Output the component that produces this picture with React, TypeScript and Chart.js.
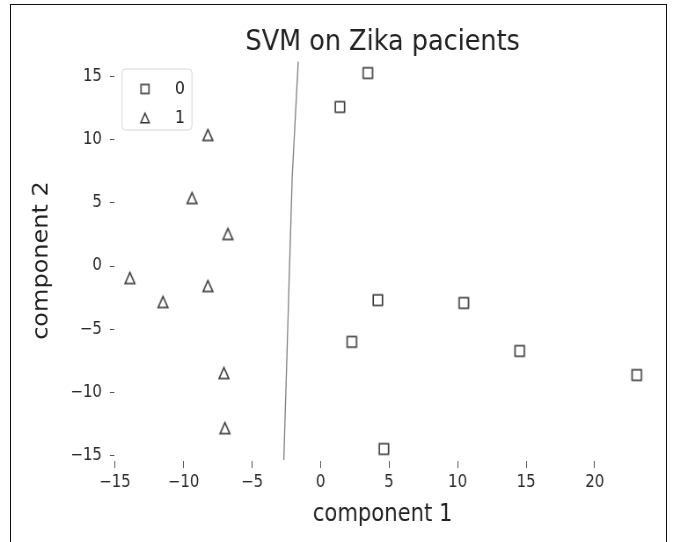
import React, { useEffect, useRef } from 'react';
import { Chart, registerables } from 'chart.js';

Chart.register(...registerables);

// ---- data ----
const xTicks = [-15, -10, -5, 0, 5, 10, 15, 20];
const yTicks = [-15, -10, -5, 0, 5, 10, 15];
const classLabels = ['0', '1'];
const class0X = [3.45, 1.41, 4.18, 10.45, 2.28, 14.53, 23.07, 4.62];
const class0Y = [15.24, 12.56, -2.69, -2.92, -5.99, -6.71, -8.61, -14.45];
const class1X = [-8.22, -9.38, -6.76, -13.91, -11.5, -8.22, -7.05, -6.98];
const class1Y = [10.35, 5.37, 2.53, -0.95, -2.84, -1.58, -8.45, -12.8];
const boundaryX = [-1.63, -2.07, -2.68];
const boundaryY = [16.14, 7.03, -15.32];
const xRange = [-15.05, 24.11];
const yRange = [-15.4, 16.27];
const titleText = 'SVM on Zika pacients';
const xLabel = 'component 1';
const yLabel = 'component 2';

// ---- presentation ----
const FONT = "'DejaVu Sans', sans-serif";
const CSS_W = 673;
const CSS_H = 542;
const SQUEEZE = 0.88; // reference is horizontally compressed
const CANVAS_W = Math.round(CSS_W / SQUEEZE);

function fmt(value: number | string) {
  const v = Number(value);
  return v < 0 ? '\u2212' + Math.abs(v) : String(v);
}

function makeMarker(shape: 'square' | 'triangle', size: number, lw: number, color: string) {
  const pad = Math.ceil(lw) + 1;
  const dim = Math.ceil(size + 2 * pad);
  const c = document.createElement('canvas');
  c.width = dim;
  c.height = dim;
  const ctx = c.getContext('2d')!;
  ctx.strokeStyle = color;
  ctx.lineWidth = lw;
  ctx.lineJoin = 'miter';
  const cx = dim / 2;
  const cy = dim / 2;
  const h = size / 2;
  ctx.beginPath();
  if (shape === 'square') {
    ctx.rect(cx - h, cy - h, size, size);
  } else {
    ctx.moveTo(cx, cy - h);
    ctx.lineTo(cx + h, cy + h);
    ctx.lineTo(cx - h, cy + h);
    ctx.closePath();
  }
  ctx.stroke();
  return c;
}

const legendFrame = {
  id: 'legendFrame',
  afterLayout(chart: any) {
    const lg = chart.legend;
    const ca = chart.chartArea;
    if (!lg) return;
    lg.left = ca.left - 1.1;
    lg.top = ca.top + 9;
    lg.right = ca.right;
    lg.bottom = ca.bottom;
  },
  afterDraw(chart: any) {
    const lg = chart.legend;
    if (!lg) return;
    const ctx = chart.ctx;
    const x = lg.left + 9.8;
    const y = lg.top;
    const w = 79.6;
    const h = 61;
    ctx.save();
    ctx.strokeStyle = '#d6d6d6';
    ctx.lineWidth = 1;
    ctx.beginPath();
    (ctx as any).roundRect(x, y, w, h, 4);
    ctx.stroke();
    ctx.restore();
  },
};

export default function App() {
  const ref = useRef<HTMLCanvasElement>(null);

  useEffect(() => {
    const canvas = ref.current;
    if (!canvas) return;
    const sq = makeMarker('square', 10.5, 1.6, '#333');
    const tri = makeMarker('triangle', 11, 1.6, '#333');
    const sqL = makeMarker('square', 9, 1.5, '#333');
    const triL = makeMarker('triangle', 9.5, 1.5, '#333');

    const chart = new Chart(canvas, {
      type: 'scatter',
      data: {
        datasets: [
          {
            label: classLabels[0],
            data: class0X.map((x, i) => ({ x, y: class0Y[i] })),
            pointStyle: sq as any,
            pointRadius: 6,
            showLine: false,
          },
          {
            label: classLabels[1],
            data: class1X.map((x, i) => ({ x, y: class1Y[i] })),
            pointStyle: tri as any,
            pointRadius: 6,
            showLine: false,
          },
          {
            label: 'boundary',
            data: boundaryX.map((x, i) => ({ x, y: boundaryY[i] })),
            showLine: true,
            pointRadius: 0,
            borderColor: '#808080',
            borderWidth: 1.3,
            fill: false,
          } as any,
        ],
      },
      options: {
        responsive: false,
        animation: false,
        devicePixelRatio: 1,
        layout: { padding: { left: 0, top: 0, right: CANVAS_W - 740, bottom: 0 } },
        plugins: {
          tooltip: { enabled: false },
          title: {
            display: true,
            text: titleText,
            fullSize: false,
            color: '#222',
            font: { family: FONT, size: 29, weight: 'normal' },
            padding: { top: 24.6, bottom: 0.6 },
          },
          legend: {
            position: 'chartArea' as any,
            align: 'start',
            labels: {
              usePointStyle: true,
              pointStyleWidth: 50,
              boxHeight: 18,
              padding: 11,
              color: '#222',
              font: { family: FONT, size: 18 },
              generateLabels: () => [
                { text: classLabels[0], pointStyle: sqL as any, datasetIndex: 0, hidden: false, lineWidth: 0, fontColor: '#222' } as any,
                { text: classLabels[1], pointStyle: triL as any, datasetIndex: 1, hidden: false, lineWidth: 0, fontColor: '#222' } as any,
              ],
            },
          },
        },
        scales: {
          x: {
            type: 'linear',
            min: xRange[0],
            max: xRange[1],
            afterFit: (s: any) => {
              s.height = 81;
            },
            afterBuildTicks: (s: any) => {
              s.ticks = xTicks.map((v) => ({ value: v }));
            },
            ticks: {
              callback: (v: any) => fmt(v),
              font: { family: FONT, size: 17 },
              color: '#2a2a2a',
              padding: 4,
              maxRotation: 0,
              autoSkip: false,
            },
            grid: { display: true, drawOnChartArea: false, drawTicks: true, tickLength: 7, color: '#555', lineWidth: 1 },
            border: { display: false },
            title: {
              display: true,
              text: xLabel,
              color: '#222',
              font: { family: FONT, size: 24 },
              padding: { top: 0, bottom: 12.6 },
            },
          },
          y: {
            type: 'linear',
            min: yRange[0],
            max: yRange[1],
            afterFit: (s: any) => {
              s.width = 129.9;
            },
            afterBuildTicks: (s: any) => {
              s.ticks = yTicks.map((v) => ({ value: v }));
            },
            ticks: {
              callback: (v: any) => fmt(v),
              font: { family: FONT, size: 17 },
              color: '#2a2a2a',
              padding: 9,
              autoSkip: false,
            },
            grid: { display: true, drawOnChartArea: false, drawTicks: true, tickLength: 5, color: '#555', lineWidth: 1 },
            border: { display: false },
            title: {
              display: true,
              text: yLabel,
              color: '#222',
              font: { family: FONT, size: 24 },
              padding: { top: 33.3, bottom: 0 },
            },
          },
        },
      },
      plugins: [legendFrame as any],
    });
    return () => chart.destroy();
  }, []);

  return (
    <div
      style={{
        position: 'fixed',
        left: 0,
        top: 0,
        width: CSS_W,
        height: CSS_H,
        background: '#fff',
        overflow: 'hidden',
      }}
    >
      <canvas
        ref={ref}
        width={CANVAS_W}
        height={CSS_H}
        style={{ position: 'absolute', left: 0, top: 0, width: CSS_W, height: CSS_H }}
      />
      <div
        style={{
          position: 'absolute',
          left: 10,
          top: 4,
          width: 655,
          height: 600,
          border: '1px solid #111',
          borderBottom: 'none',
          pointerEvents: 'none',
        }}
      />
    </div>
  );
}
